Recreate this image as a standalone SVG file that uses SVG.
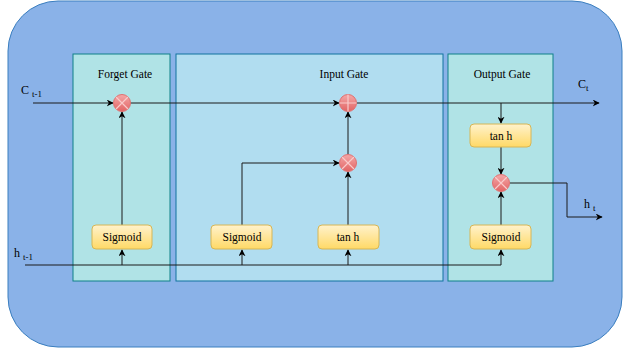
<svg xmlns="http://www.w3.org/2000/svg" width="624" height="349" viewBox="0 0 624 349">
<defs>
<linearGradient id="yel" x1="0" y1="0" x2="0" y2="1"><stop offset="0" stop-color="#FFF2CC"/><stop offset="1" stop-color="#FFD966"/></linearGradient>
<linearGradient id="red" x1="0" y1="0" x2="0" y2="1"><stop offset="0" stop-color="#F4A8A8"/><stop offset="1" stop-color="#E26464"/></linearGradient>
<marker id="arr" viewBox="0 0 10 10" refX="9" refY="5" markerWidth="7" markerHeight="7" orient="auto" markerUnits="userSpaceOnUse"><path d="M0,0 L10,5 L0,10 L3,5 Z" fill="#000"/></marker>
<style>
.gate1{fill:#B0E3E6;stroke:#0E8088;stroke-width:1}
.gate2{fill:#B1DDF0;stroke:#10739E;stroke-width:1}
.fn{fill:url(#yel);stroke:#D6B656;stroke-width:1}
.op{fill:url(#red);stroke:#E07070;stroke-width:1}
.opl{stroke:#F9CACA;stroke-width:1.2;fill:none}
.t{font-family:"Liberation Serif",serif;font-size:11.5px;fill:#000;text-anchor:middle}
.lbl{font-family:"Liberation Serif",serif;font-size:12px;fill:#000}
.sub{font-size:9px}
.c{fill:none;stroke:#1a1a1a;stroke-width:1}
</style>
</defs>
<rect x="8" y="1" width="614" height="346" rx="50" ry="50" fill="#8AB2E8" stroke="#3A7EBF" stroke-width="1"/>
<g id="forget-gate"><rect class="gate1" x="73" y="54" width="97" height="227"/><text class="t" x="125" y="78">Forget Gate</text></g>
<g id="input-gate"><rect class="gate2" x="176" y="54" width="267" height="227"/><text class="t" x="344" y="78">Input Gate</text></g>
<g id="output-gate"><rect class="gate1" x="448" y="54" width="105" height="227"/><text class="t" x="502" y="78">Output Gate</text></g>
<g id="connectors">
<path class="c" d="M33,103 H113" marker-end="url(#arr)"/>
<path class="c" d="M130,103 H339" marker-end="url(#arr)"/>
<path class="c" d="M357,103 H599" marker-end="url(#arr)"/>
<path class="c" d="M501,103 V123" marker-end="url(#arr)"/>
<path class="c" d="M501,147 V174" marker-end="url(#arr)"/>
<path class="c" d="M501,225 V192" marker-end="url(#arr)"/>
<path class="c" d="M510,183 H567 V217 H602" marker-end="url(#arr)"/>
<path class="c" d="M122,225 V112" marker-end="url(#arr)"/>
<path class="c" d="M242,225 V163 H339" marker-end="url(#arr)"/>
<path class="c" d="M348,225 V172" marker-end="url(#arr)"/>
<path class="c" d="M348,154 V112" marker-end="url(#arr)"/>
<path class="c" d="M25,265 H501 V250" marker-end="url(#arr)"/>
<path class="c" d="M122,265 V250" marker-end="url(#arr)"/>
<path class="c" d="M242,265 V250" marker-end="url(#arr)"/>
<path class="c" d="M348,265 V250" marker-end="url(#arr)"/>
</g>
<g id="forget-mult"><circle class="op" cx="122" cy="103" r="8.5"/><path class="opl" d="M116,97 L128,109 M128,97 L116,109"/></g>
<g id="cell-add"><circle class="op" cx="348" cy="103" r="8.5"/><path class="opl" d="M339.5,103 H356.5 M348,94.5 V111.5"/></g>
<g id="input-mult"><circle class="op" cx="348" cy="163" r="8.5"/><path class="opl" d="M342,157 L354,169 M354,157 L342,169"/></g>
<g id="output-mult"><circle class="op" cx="501" cy="183" r="8.5"/><path class="opl" d="M495,177 L507,189 M507,177 L495,189"/></g>
<g id="forget-sigmoid"><rect class="fn" x="92" y="225" width="60" height="24" rx="4"/><text class="t" x="122" y="241">Sigmoid</text></g>
<g id="input-sigmoid"><rect class="fn" x="211" y="225" width="61" height="24" rx="4"/><text class="t" x="242" y="241">Sigmoid</text></g>
<g id="input-tanh"><rect class="fn" x="318" y="225" width="61" height="24" rx="4"/><text class="t" x="348" y="241">tan h</text></g>
<g id="output-tanh"><rect class="fn" x="470" y="124" width="61" height="23" rx="4"/><text class="t" x="501" y="140">tan h</text></g>
<g id="output-sigmoid"><rect class="fn" x="470" y="225" width="61" height="24" rx="4"/><text class="t" x="501" y="241">Sigmoid</text></g>
<g id="labels">
<text class="lbl" x="21" y="94">C <tspan class="sub" dy="3">t-1</tspan></text>
<text class="lbl" x="578" y="88">C<tspan class="sub" dy="3">t</tspan></text>
<text class="lbl" x="14" y="257">h <tspan class="sub" dy="3">t-1</tspan></text>
<text class="lbl" x="584" y="208">h <tspan class="sub" dy="3">t</tspan></text>
</g>
</svg>
